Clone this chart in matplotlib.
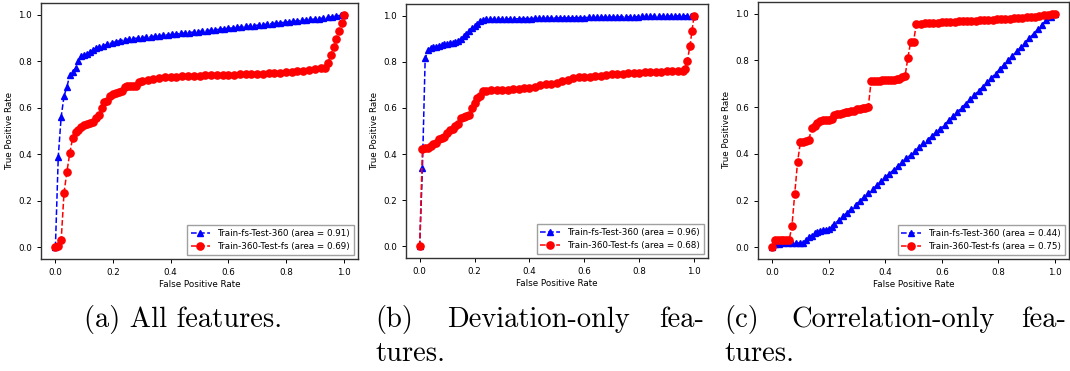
#!/usr/bin/env python3
"""Curvas ROC: entrenamiento cruzado fs / 360 para tres conjuntos de features."""
import matplotlib
matplotlib.use("Agg")
import matplotlib.pyplot as plt

# ---- (a) All features ----
a_blue_fpr = [0.000, 0.010, 0.020, 0.030, 0.040, 0.050, 0.060, 0.070, 0.080, 0.090,
              0.100, 0.110, 0.120, 0.130, 0.140, 0.150, 0.165, 0.180, 0.195, 0.210,
              0.225, 0.240, 0.255, 0.270, 0.285, 0.300, 0.315, 0.330, 0.345, 0.360,
              0.375, 0.390, 0.405, 0.420, 0.435, 0.450, 0.465, 0.480, 0.495, 0.510,
              0.525, 0.540, 0.555, 0.570, 0.585, 0.600, 0.615, 0.630, 0.645, 0.660,
              0.675, 0.690, 0.705, 0.720, 0.735, 0.750, 0.765, 0.780, 0.795, 0.810,
              0.825, 0.840, 0.855, 0.870, 0.885, 0.900, 0.915, 0.930, 0.945, 0.960,
              0.975, 0.990, 1.000]
a_blue_tpr = [0.000, 0.390, 0.560, 0.650, 0.690, 0.740, 0.755, 0.770, 0.800, 0.820,
              0.825, 0.830, 0.840, 0.848, 0.855, 0.860, 0.866, 0.872, 0.878, 0.884,
              0.888, 0.892, 0.895, 0.897, 0.899, 0.901, 0.903, 0.905, 0.907, 0.909,
              0.911, 0.913, 0.915, 0.917, 0.919, 0.921, 0.923, 0.925, 0.927, 0.929,
              0.931, 0.933, 0.935, 0.937, 0.939, 0.941, 0.943, 0.945, 0.947, 0.949,
              0.951, 0.953, 0.955, 0.957, 0.959, 0.961, 0.963, 0.965, 0.967, 0.969,
              0.971, 0.973, 0.975, 0.977, 0.979, 0.981, 0.983, 0.985, 0.988, 0.991,
              0.994, 0.997, 1.000]
a_red_fpr = [0.000, 0.010, 0.020, 0.030, 0.040, 0.050, 0.060, 0.070, 0.080, 0.090,
             0.100, 0.110, 0.120, 0.130, 0.140, 0.150, 0.160, 0.170, 0.180, 0.190,
             0.200, 0.210, 0.220, 0.230, 0.240, 0.250, 0.260, 0.270, 0.280, 0.290,
             0.300, 0.320, 0.340, 0.360, 0.380, 0.400, 0.420, 0.440, 0.460, 0.480,
             0.500, 0.520, 0.540, 0.560, 0.580, 0.600, 0.620, 0.640, 0.660, 0.680,
             0.700, 0.720, 0.740, 0.760, 0.780, 0.800, 0.820, 0.840, 0.860, 0.880,
             0.900, 0.920, 0.935, 0.945, 0.955, 0.965, 0.975, 0.985, 0.993, 1.000]
a_red_tpr = [0.000, 0.005, 0.030, 0.235, 0.325, 0.405, 0.470, 0.495, 0.505, 0.515,
             0.525, 0.530, 0.535, 0.540, 0.555, 0.570, 0.600, 0.625, 0.630, 0.650,
             0.660, 0.665, 0.668, 0.670, 0.690, 0.692, 0.693, 0.694, 0.695, 0.710,
             0.715, 0.720, 0.724, 0.728, 0.731, 0.733, 0.734, 0.735, 0.736, 0.737,
             0.738, 0.739, 0.740, 0.740, 0.741, 0.742, 0.742, 0.743, 0.744, 0.744,
             0.745, 0.746, 0.747, 0.748, 0.750, 0.752, 0.754, 0.756, 0.758, 0.762,
             0.766, 0.770, 0.772, 0.790, 0.825, 0.860, 0.895, 0.930, 0.965, 1.000]

# ---- (b) Deviation-only features ----
b_blue_fpr = [0.000, 0.010, 0.020, 0.030, 0.040, 0.050, 0.060, 0.070, 0.080, 0.090,
              0.100, 0.110, 0.120, 0.130, 0.140, 0.150, 0.160, 0.170, 0.180, 0.190,
              0.200, 0.210, 0.220, 0.230, 0.240, 0.255, 0.270, 0.285, 0.300, 0.315,
              0.330, 0.345, 0.360, 0.375, 0.390, 0.405, 0.420, 0.435, 0.450, 0.465,
              0.480, 0.495, 0.510, 0.525, 0.540, 0.555, 0.570, 0.585, 0.600, 0.615,
              0.630, 0.645, 0.660, 0.675, 0.690, 0.705, 0.720, 0.735, 0.750, 0.765,
              0.780, 0.795, 0.810, 0.825, 0.840, 0.855, 0.870, 0.885, 0.900, 0.915,
              0.930, 0.945, 0.960, 0.975, 0.990, 1.000]
b_blue_tpr = [0.000, 0.340, 0.815, 0.850, 0.860, 0.862, 0.865, 0.870, 0.872, 0.875,
              0.877, 0.880, 0.882, 0.885, 0.890, 0.900, 0.910, 0.920, 0.935, 0.945,
              0.955, 0.965, 0.975, 0.980, 0.983, 0.984, 0.984, 0.985, 0.985, 0.985,
              0.986, 0.986, 0.986, 0.987, 0.987, 0.987, 0.988, 0.988, 0.988, 0.989,
              0.989, 0.989, 0.990, 0.990, 0.990, 0.990, 0.991, 0.991, 0.991, 0.992,
              0.992, 0.992, 0.993, 0.993, 0.993, 0.994, 0.994, 0.994, 0.995, 0.995,
              0.995, 0.995, 0.996, 0.996, 0.996, 0.997, 0.997, 0.997, 0.998, 0.998,
              0.998, 0.999, 0.999, 0.999, 1.000, 1.000]
b_red_fpr = [0.000, 0.010, 0.020, 0.030, 0.040, 0.050, 0.060, 0.070, 0.080, 0.090,
             0.100, 0.110, 0.120, 0.130, 0.140, 0.150, 0.160, 0.170, 0.180, 0.190,
             0.200, 0.210, 0.220, 0.230, 0.240, 0.260, 0.280, 0.300, 0.320, 0.340,
             0.360, 0.380, 0.400, 0.420, 0.440, 0.460, 0.480, 0.500, 0.520, 0.540,
             0.560, 0.580, 0.600, 0.620, 0.640, 0.660, 0.680, 0.700, 0.720, 0.740,
             0.760, 0.780, 0.800, 0.820, 0.840, 0.860, 0.880, 0.900, 0.920, 0.940,
             0.960, 0.967, 0.975, 0.985, 0.992, 1.000]
b_red_tpr = [0.000, 0.420, 0.425, 0.428, 0.435, 0.445, 0.450, 0.465, 0.470, 0.475,
             0.490, 0.505, 0.510, 0.520, 0.530, 0.555, 0.560, 0.565, 0.570, 0.600,
             0.620, 0.645, 0.650, 0.675, 0.675, 0.676, 0.677, 0.678, 0.679, 0.680,
             0.682, 0.685, 0.688, 0.692, 0.700, 0.702, 0.705, 0.710, 0.715, 0.722,
             0.730, 0.732, 0.734, 0.736, 0.738, 0.740, 0.742, 0.745, 0.747, 0.749,
             0.750, 0.752, 0.753, 0.754, 0.755, 0.756, 0.757, 0.758, 0.759, 0.760,
             0.762, 0.770, 0.805, 0.870, 0.935, 1.000]

# ---- (c) Correlation-only features ----
c_blue_fpr = [0.000, 0.010, 0.025, 0.040, 0.055, 0.070, 0.085, 0.100, 0.110, 0.120,
              0.130, 0.140, 0.150, 0.160, 0.170, 0.180, 0.190, 0.200, 0.210, 0.220,
              0.235, 0.250, 0.265, 0.280, 0.295, 0.310, 0.325, 0.340, 0.355, 0.370,
              0.385, 0.400, 0.415, 0.430, 0.445, 0.460, 0.475, 0.490, 0.505, 0.520,
              0.535, 0.550, 0.565, 0.580, 0.595, 0.610, 0.625, 0.640, 0.655, 0.670,
              0.685, 0.700, 0.715, 0.730, 0.745, 0.760, 0.775, 0.790, 0.805, 0.820,
              0.835, 0.850, 0.865, 0.880, 0.895, 0.910, 0.925, 0.940, 0.955, 0.970,
              0.985, 1.000]
c_blue_tpr = [0.000, 0.015, 0.016, 0.017, 0.017, 0.018, 0.018, 0.019, 0.020, 0.030,
              0.045, 0.050, 0.060, 0.065, 0.070, 0.072, 0.075, 0.078, 0.085, 0.100,
              0.115, 0.132, 0.148, 0.165, 0.182, 0.198, 0.215, 0.232, 0.248, 0.265,
              0.282, 0.300, 0.315, 0.332, 0.348, 0.364, 0.380, 0.396, 0.412, 0.428,
              0.444, 0.460, 0.476, 0.492, 0.508, 0.525, 0.543, 0.561, 0.579, 0.597,
              0.615, 0.633, 0.651, 0.669, 0.687, 0.705, 0.724, 0.743, 0.762, 0.781,
              0.800, 0.819, 0.838, 0.857, 0.876, 0.895, 0.914, 0.933, 0.952, 0.971,
              0.986, 1.000]
c_red_fpr = [0.000, 0.010, 0.020, 0.030, 0.040, 0.050, 0.060, 0.070, 0.080, 0.090,
             0.100, 0.110, 0.120, 0.130, 0.140, 0.150, 0.160, 0.170, 0.180, 0.190,
             0.200, 0.210, 0.220, 0.230, 0.240, 0.250, 0.260, 0.270, 0.280, 0.290,
             0.300, 0.310, 0.320, 0.330, 0.340, 0.350, 0.360, 0.370, 0.380, 0.390,
             0.400, 0.410, 0.420, 0.430, 0.440, 0.450, 0.460, 0.470, 0.480, 0.490,
             0.500, 0.510, 0.525, 0.540, 0.555, 0.570, 0.585, 0.600, 0.615, 0.630,
             0.645, 0.660, 0.675, 0.690, 0.705, 0.720, 0.735, 0.750, 0.765, 0.780,
             0.795, 0.810, 0.825, 0.840, 0.855, 0.870, 0.885, 0.900, 0.915, 0.930,
             0.945, 0.960, 0.975, 0.990, 1.000]
c_red_tpr = [0.000, 0.030, 0.030, 0.030, 0.030, 0.030, 0.030, 0.090, 0.230, 0.365,
             0.450, 0.452, 0.455, 0.460, 0.510, 0.520, 0.530, 0.540, 0.545, 0.545,
             0.545, 0.548, 0.565, 0.570, 0.572, 0.575, 0.578, 0.580, 0.582, 0.585,
             0.590, 0.593, 0.596, 0.598, 0.600, 0.710, 0.712, 0.713, 0.713, 0.714,
             0.714, 0.715, 0.715, 0.716, 0.718, 0.722, 0.730, 0.732, 0.810, 0.880,
             0.880, 0.955, 0.957, 0.958, 0.959, 0.960, 0.961, 0.962, 0.963, 0.964,
             0.965, 0.966, 0.967, 0.968, 0.969, 0.970, 0.971, 0.972, 0.973, 0.974,
             0.975, 0.976, 0.977, 0.978, 0.980, 0.981, 0.982, 0.984, 0.985, 0.987,
             0.989, 0.992, 0.995, 0.998, 1.000]

panels = [
    ("a", a_blue_fpr, a_blue_tpr, 0.91, a_red_fpr, a_red_tpr, 0.69),
    ("b", b_blue_fpr, b_blue_tpr, 0.96, b_red_fpr, b_red_tpr, 0.68),
    ("c", c_blue_fpr, c_blue_tpr, 0.44, c_red_fpr, c_red_tpr, 0.75),
]
# [left, bottom, width, height] en fracción de figura
boxes = [
    [0.0383, 0.302, 0.2963, 0.690],
    [0.3794, 0.3046, 0.2822, 0.6846],
    [0.7084, 0.302, 0.2907, 0.693],
]

FS = 6.3
W, H = 1070, 371

fig = plt.figure(figsize=(W / 100, H / 100), dpi=100)

for (tag, bx, by, barea, rx, ry, rarea), box in zip(panels, boxes):
    ax = fig.add_axes(box)
    ax.plot(bx, by, color='blue', linestyle='--', marker='^', markersize=4.8,
            linewidth=1.1, label=f'Train-fs-Test-360 (area = {barea:.2f})')
    ax.plot(rx, ry, color='red', linestyle='--', marker='o', markersize=5.2,
            linewidth=1.1, label=f'Train-360-Test-fs (area = {rarea:.2f})')
    ax.set_xlim(-0.05, 1.05)
    ax.set_ylim(-0.05, 1.05)
    ax.set_xticks([0.0, 0.2, 0.4, 0.6, 0.8, 1.0])
    ax.set_yticks([0.0, 0.2, 0.4, 0.6, 0.8, 1.0])
    ax.tick_params(labelsize=FS, length=3, width=0.7)
    ax.set_xlabel('False Positive Rate', fontsize=FS, labelpad=2)
    ax.set_ylabel('True Positive Rate', fontsize=FS, labelpad=3)
    for sp in ax.spines.values():
        sp.set_linewidth(1.0)
        sp.set_color('#333333')
    ax.legend(loc='lower right', fontsize=FS, handlelength=2.2,
              borderpad=0.45, labelspacing=0.45, fancybox=False, edgecolor='#888888')

# leyendas de las subfiguras (estilo LaTeX)
cap = dict(family='cmr10', fontsize=20.5, va='baseline', ha='left')
y1 = 1 - 327 / H
y2 = 1 - 361 / H
fig.text(84 / W, y1, '(a) All features.', **cap)
fig.text(375 / W, y1, '(b)', **cap)
fig.text(447 / W, y1, 'Deviation-only', **cap)
fig.text(704 / W, y1, 'fea-', **{**cap, 'ha': 'right'})
fig.text(375 / W, y2, 'tures.', **cap)
fig.text(724 / W, y1, '(c)', **cap)
fig.text(791 / W, y1, 'Correlation-only', **cap)
fig.text(1066 / W, y1, 'fea-', **{**cap, 'ha': 'right'})
fig.text(724 / W, y2, 'tures.', **cap)

fig.savefig('out.png', dpi=100)
